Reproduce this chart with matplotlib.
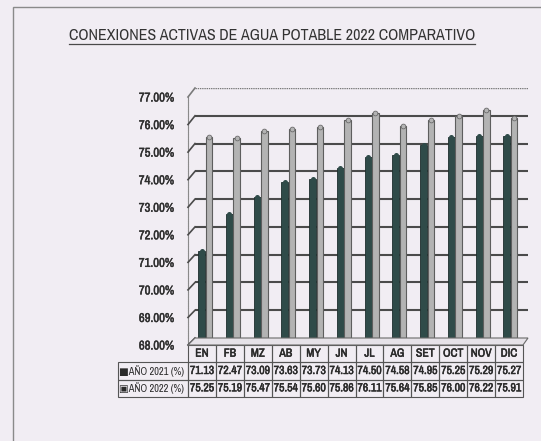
import matplotlib
matplotlib.use("Agg")
import matplotlib.pyplot as plt
from matplotlib import font_manager as fm
from matplotlib import patheffects as pe
from matplotlib.lines import Line2D
from matplotlib.patches import Polygon, Rectangle

months = ["EN", "FB", "MZ", "AB", "MY", "JN", "JL", "AG", "SET", "OCT", "NOV", "DIC"]
anio_2021 = [71.13, 72.47, 73.09, 73.63, 73.73, 74.13, 74.50, 74.58, 74.95, 75.25, 75.29, 75.27]
anio_2022 = [75.25, 75.19, 75.47, 75.54, 75.60, 75.86, 76.11, 75.64, 75.85, 76.00, 76.22, 75.91]
series_labels = ["■AÑO 2021 (%)", "▣AÑO 2022 (%)"]
y_ticks = [68, 69, 70, 71, 72, 73, 74, 75, 76, 77]
title = "CONEXIONES ACTIVAS DE AGUA POTABLE 2022 COMPARATIVO"

BG = "#f1edf3"
DARK = "#2f4b49"
LIGHT = "#b3b3b3"
GRID = "#4b4b4b"


def pick_narrow():
    names = [f.name for f in fm.fontManager.ttflist]
    for n in names:
        if "Narrow" in n:
            return n, "normal"
    for n in names:
        if "Condensed" in n:
            return n, "normal"
    for f in fm.fontManager.ttflist:
        if f.name == "DejaVu Sans" and str(f.stretch) == "condensed":
            return "DejaVu Sans", "condensed"
    return "DejaVu Sans", "normal"


NFAM, NSTRETCH = pick_narrow()
NARROW = [NFAM, "DejaVu Sans"]

W, H = 541, 441
fig = plt.figure(figsize=(W / 100, H / 100), dpi=100, facecolor=BG)
renderer = fig.canvas.get_renderer()


def px(x0, y0, x1, y1):
    return [x0 / W, 1 - y1 / H, (x1 - x0) / W, (y1 - y0) / H]


def fit_size(text, size, max_px, weight="normal"):
    t = fig.text(0, 0, text, fontsize=size, family=NARROW, fontstretch=NSTRETCH, fontweight=weight)
    w = t.get_window_extent(renderer=renderer).width
    t.remove()
    return size if w <= max_px else size * max_px / w


# outer frame
fig.add_artist(Rectangle((13 / W, -0.05), 1.2, 1 - 7 / H + 0.05, transform=fig.transFigure,
                         fill=False, edgecolor="#8a8a8a", lw=1.0))

# back wall axes (gridlines and bars)
ax = fig.add_axes(px(195, 88, 528, 338))
ax.set_facecolor("none")
ax.set_xlim(-0.5, len(months) - 0.5)
ax.set_ylim(y_ticks[0], y_ticks[-1])
for s in ax.spines.values():
    s.set_visible(False)
ax.set_xticks([])
ax.set_yticks([])
for v in y_ticks[1:]:
    top = v == y_ticks[-1]
    ax.axhline(v, color="#7a7a7a" if top else GRID, lw=1.0 if top else 1.5,
               ls=(0, (1, 0.6)) if top else "-", zorder=1)

xs = list(range(len(months)))
ax.bar([x - 0.26 for x in xs], [v - y_ticks[0] for v in anio_2021], bottom=y_ticks[0],
       width=0.25, color=DARK, edgecolor="#1d2e2d", lw=0.6, zorder=3)
ax.bar([x + 0.0 for x in xs], [v - y_ticks[0] for v in anio_2022], bottom=y_ticks[0],
       width=0.24, color=LIGHT, edgecolor="#5e5e5e", lw=0.8, zorder=3)
ax.scatter([x - 0.26 for x in xs], anio_2021, s=13, marker="o", color=DARK, zorder=4, lw=0)
ax.scatter([x + 0.0 for x in xs], anio_2022, s=12, marker="o", color=LIGHT, edgecolor="#5e5e5e",
           lw=0.5, zorder=4)

# front plane axes (tick labels, table)
axf = fig.add_axes(px(188, 97, 523, 345))
axf.set_facecolor("none")
axf.set_ylim(y_ticks[0], y_ticks[-1])
axf.set_xlim(0, 1)
for k, s in axf.spines.items():
    s.set_visible(k == "left")
axf.spines["left"].set_color("#8a8a8a")
axf.spines["left"].set_linewidth(0.8)
axf.spines["left"].set_linestyle((0, (1, 0.6)))
axf.set_xticks([])
axf.set_yticks(y_ticks)
tick_labels = [f"{v:.2f}%" for v in y_ticks]
axf.set_yticklabels(tick_labels)
axf.tick_params(axis="y", length=0, pad=10)
ysz = fit_size(tick_labels[0], 10, 35, "bold")
for lab in axf.get_yticklabels():
    lab.set_fontfamily(NARROW)
    lab.set_fontstretch(NSTRETCH)
    lab.set_fontsize(ysz)
    lab.set_fontweight("bold")
    lab.set_color("#2e2e2e")
    lab.set_path_effects([pe.withStroke(linewidth=0.3, foreground="#2e2e2e")])

# side wall slants and floor
to_fig = fig.transFigure.inverted()
for v in y_ticks:
    f = (v - y_ticks[0]) / (y_ticks[-1] - y_ticks[0])
    p0 = to_fig.transform(axf.transAxes.transform((0, f)))
    p1 = to_fig.transform(ax.transAxes.transform((0, f)))
    fig.add_artist(Line2D([p0[0], p1[0]], [p0[1], p1[1]], transform=fig.transFigure,
                          color="#7a7a7a" if v == y_ticks[-1] else GRID, lw=1.2))
fl = [to_fig.transform(axf.transAxes.transform((0, 0))),
      to_fig.transform(axf.transAxes.transform((1, 0))),
      to_fig.transform(ax.transAxes.transform((1, 0))),
      to_fig.transform(ax.transAxes.transform((0, 0)))]
fig.add_artist(Polygon(fl, closed=True, transform=fig.transFigure, facecolor="#e6e2e8",
                       edgecolor="#6a6a6a", lw=0.8, zorder=5))

# data table
fw = 523 - 188
fh = 345 - 97
tw_px = 523 - 118
lab_px = 70
col_px = (tw_px - lab_px) / len(months)
cell_text = [[series_labels[0]] + [f"{v:.2f}" for v in anio_2021],
             [series_labels[1]] + [f"{v:.2f}" for v in anio_2022]]
tab = axf.table(cellText=cell_text, colLabels=[""] + months,
                colWidths=[lab_px / tw_px] + [col_px / tw_px] * len(months),
                cellLoc="center", bbox=[-lab_px / fw, -52 / fh, tw_px / fw, 52 / fh])
tab.auto_set_font_size(False)
num_sz = fit_size("76.22", 9, col_px - 4, "bold")
lab_sz = fit_size(series_labels[1], 9, lab_px - 5, "bold")
for (r, c), cell in tab.get_celld().items():
    cell.set_edgecolor("#555555")
    cell.set_linewidth(0.8)
    cell.set_facecolor("none")
    t = cell.get_text()
    t.set_fontfamily(NARROW)
    t.set_fontstretch(NSTRETCH)
    t.set_fontsize(lab_sz if (c == 0 and r > 0) else num_sz)
    t.set_fontweight("bold")
    t.set_color("#2a2a2a")
    if not (c == 0 and r > 0):
        t.set_path_effects([pe.withStroke(linewidth=0.35, foreground="#2a2a2a")])
    if r == 0 and c == 0:
        cell.visible_edges = "open"
    if c == 0 and r > 0:
        t.set_horizontalalignment("left")
        cell.PAD = 0.02

# title with underline
tsz = fit_size(title, 12.5, 408)
tt = fig.text(272 / W, 1 - 35 / H, title, ha="center", va="center", fontsize=tsz,
              family=NARROW, fontstretch=NSTRETCH, color="#333333")
fig.canvas.draw()
bbf = tt.get_window_extent(renderer=renderer).transformed(fig.transFigure.inverted())
fig.add_artist(Line2D([bbf.x0, bbf.x1], [1 - 44 / H, 1 - 44 / H], transform=fig.transFigure,
                      color="#4a4a4a", lw=0.9))

fig.savefig("out.png", dpi=100, facecolor=BG)
